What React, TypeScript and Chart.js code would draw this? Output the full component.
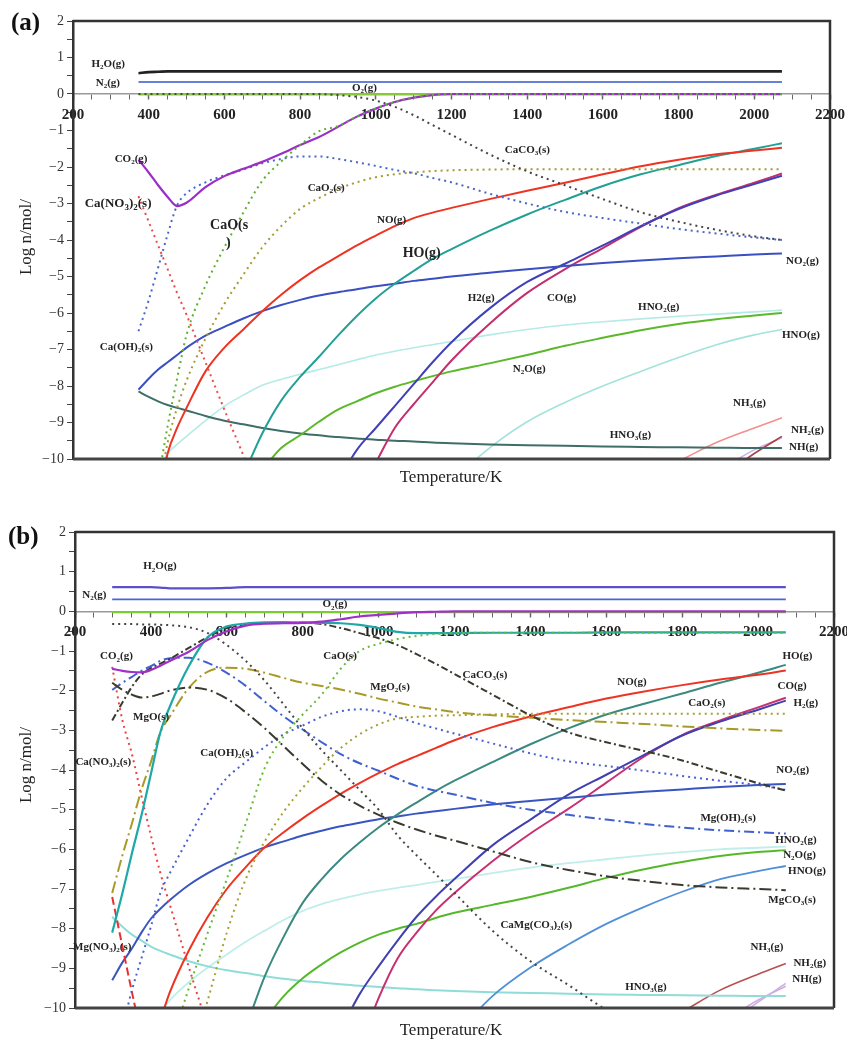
import React, { useEffect, useRef } from "react";
import { Chart, registerables } from "chart.js";

Chart.register(...registerables);

const N = null;
const SERIF = '"Liberation Serif", "Times New Roman", serif';

// ---------------- Panel (a) ----------------
const tempA = [373, 400, 425, 450, 475, 500, 550, 600, 650, 700, 750, 800, 850, 900, 950, 1000, 1050, 1100, 1150, 1200, 1300, 1400, 1500, 1600, 1700, 1800, 1900, 2000, 2073];

const aH2O = [0.57, 0.6, 0.61, 0.62, 0.62, 0.62, 0.62, 0.62, 0.62, 0.62, 0.62, 0.62, 0.62, 0.62, 0.62, 0.62, 0.62, 0.62, 0.62, 0.62, 0.62, 0.62, 0.62, 0.62, 0.62, 0.62, 0.62, 0.62, 0.62];
const aN2 = [0.33, 0.33, 0.33, 0.33, 0.33, 0.33, 0.33, 0.33, 0.33, 0.33, 0.33, 0.33, 0.33, 0.33, 0.33, 0.33, 0.33, 0.33, 0.33, 0.33, 0.33, 0.33, 0.33, 0.33, 0.33, 0.33, 0.33, 0.33, 0.33];
const aO2 = [-0.01, -0.01, -0.01, -0.01, -0.01, -0.01, -0.01, -0.01, -0.01, -0.01, -0.01, -0.01, -0.01, -0.01, -0.01, -0.01, -0.01, -0.01, -0.01, -0.01, -0.01, -0.01, -0.01, -0.01, -0.01, -0.01, -0.01, -0.01, -0.01];
const aCO2 = [-1.8, -2.15, -2.5, -2.82, -3.07, -2.98, -2.55, -2.25, -2.05, -1.86, -1.64, -1.4, -1.18, -0.9, -0.62, -0.4, -0.22, -0.1, -0.03, 0, 0, 0, 0, 0, 0, 0, 0, 0, 0];
const aCaOH2 = [-6.5, -5.65, -4.75, -3.85, -3.05, -2.72, -2.42, -2.23, -2.07, -1.9, -1.78, -1.71, -1.71, -1.78, -1.87, -1.97, -2.08, -2.17, -2.3, -2.42, -2.73, -3.0, -3.23, -3.4, -3.55, -3.7, -3.82, -3.93, -4.0];
const aCaNO3 = [-2.8, -3.5, -4.15, -4.8, -5.45, -6.05, -7.35, -8.65, -9.9, -11.2, N, N, N, N, N, N, N, N, N, N, N, N, N, N, N, N, N, N, N];
const aCaO = [N, N, -10.6, -9.1, -7.8, -6.6, -5.25, -4.2, -3.25, -2.38, -1.85, -1.4, -1.02, -0.88, -0.62, -0.4, -0.22, -0.1, -0.03, 0, 0, 0, 0, 0, 0, 0, 0, 0, 0];
const aCaO2 = [N, N, -11.0, -9.55, -8.6, -7.85, -6.7, -5.75, -4.95, -4.2, -3.62, -3.15, -2.85, -2.6, -2.42, -2.28, -2.2, -2.15, -2.11, -2.09, -2.07, -2.06, -2.06, -2.06, -2.06, -2.06, -2.06, -2.06, -2.06];
const aCaCO3 = [0, 0, 0, 0, 0, 0, 0, 0, 0, 0, 0, 0, 0, -0.03, -0.08, -0.18, -0.35, -0.58, -0.85, -1.12, -1.65, -2.12, -2.5, -2.88, -3.24, -3.5, -3.72, -3.9, -4.0];
const aNO = [N, N, -11.2, -9.85, -9.15, -8.6, -7.6, -6.95, -6.45, -5.95, -5.5, -5.1, -4.75, -4.45, -4.15, -3.88, -3.62, -3.4, -3.25, -3.12, -2.88, -2.65, -2.43, -2.2, -1.98, -1.8, -1.65, -1.55, -1.47];
const aHO = [N, N, N, N, N, N, N, N, -10.45, -9.3, -8.4, -7.75, -7.2, -6.62, -6.08, -5.6, -5.2, -4.85, -4.52, -4.25, -3.75, -3.3, -2.9, -2.52, -2.2, -1.95, -1.7, -1.5, -1.35];
const aNO2 = [-8.1, -7.8, -7.55, -7.35, -7.15, -6.95, -6.62, -6.38, -6.15, -5.95, -5.78, -5.64, -5.52, -5.43, -5.35, -5.27, -5.2, -5.12, -5.06, -5.0, -4.9, -4.8, -4.71, -4.63, -4.56, -4.5, -4.45, -4.4, -4.37];
const aHNO3 = [-8.15, -8.3, -8.42, -8.52, -8.6, -8.67, -8.82, -8.95, -9.05, -9.15, -9.23, -9.3, -9.35, -9.4, -9.44, -9.47, -9.5, -9.52, -9.55, -9.57, -9.6, -9.62, -9.64, -9.66, -9.67, -9.68, -9.69, -9.7, -9.7];
const aHNO2 = [N, N, -10.3, -9.85, -9.6, -9.38, -8.95, -8.55, -8.25, -7.98, -7.82, -7.68, -7.55, -7.42, -7.28, -7.15, -7.05, -6.95, -6.87, -6.78, -6.6, -6.45, -6.33, -6.24, -6.16, -6.09, -6.03, -5.97, -5.92];
const aN2O = [N, N, N, N, N, N, N, N, N, -10.3, -9.7, -9.35, -8.98, -8.65, -8.42, -8.2, -8.02, -7.87, -7.73, -7.6, -7.38, -7.15, -6.9, -6.68, -6.47, -6.3, -6.17, -6.07, -6.0];
const aH2 = [N, N, N, N, N, N, N, N, N, N, N, N, N, -10.6, -9.75, -9.15, -8.55, -7.95, -7.35, -6.8, -5.88, -5.15, -4.65, -4.15, -3.62, -3.15, -2.78, -2.47, -2.24];
const aCO = [N, N, N, N, N, N, N, N, N, N, N, N, N, N, N, -10.1, -9.15, -8.5, -7.9, -7.3, -6.3, -5.45, -4.8, -4.22, -3.64, -3.13, -2.76, -2.43, -2.18];
const aHNO = [N, N, N, N, N, N, N, N, N, N, N, N, N, N, N, N, N, N, N, -10.6, -9.7, -8.98, -8.45, -8.0, -7.6, -7.22, -6.87, -6.6, -6.45];
const aNH3 = [N, N, N, N, N, N, N, N, N, N, N, N, N, N, N, N, N, N, N, N, N, N, N, N, -10.55, -10.06, -9.55, -9.15, -8.87];
const aNH2 = [N, N, N, N, N, N, N, N, N, N, N, N, N, N, N, N, N, N, N, N, N, N, N, N, N, N, -10.6, -9.85, -9.38];
const aNH = [N, N, N, N, N, N, N, N, N, N, N, N, N, N, N, N, N, N, N, N, N, N, N, N, N, N, -10.35, -9.75, -9.42];

// ---------------- Panel (b) ----------------
const tempB = [298, 325, 350, 375, 400, 425, 450, 500, 550, 600, 650, 700, 750, 800, 850, 900, 950, 1000, 1050, 1100, 1150, 1200, 1300, 1400, 1500, 1600, 1700, 1800, 1900, 2000, 2073];

const bH2O = [0.61, 0.61, 0.61, 0.61, 0.61, 0.6, 0.58, 0.58, 0.58, 0.59, 0.61, 0.61, 0.61, 0.61, 0.61, 0.61, 0.61, 0.61, 0.61, 0.61, 0.61, 0.61, 0.61, 0.61, 0.61, 0.61, 0.61, 0.61, 0.61, 0.61, 0.61];
const bN2 = [0.3, 0.3, 0.3, 0.3, 0.3, 0.3, 0.3, 0.3, 0.3, 0.3, 0.3, 0.3, 0.3, 0.3, 0.3, 0.3, 0.3, 0.3, 0.3, 0.3, 0.3, 0.3, 0.3, 0.3, 0.3, 0.3, 0.3, 0.3, 0.3, 0.3, 0.3];
const bO2 = [-0.02, -0.02, -0.02, -0.02, -0.02, -0.02, -0.02, -0.02, -0.02, -0.02, -0.02, -0.02, -0.02, -0.02, -0.02, -0.02, -0.02, -0.02, -0.02, -0.02, -0.02, -0.02, -0.02, -0.02, -0.02, -0.02, -0.02, -0.02, -0.02, -0.02, -0.02];
const bCO2 = [-1.45, -1.5, -1.53, -1.54, -1.48, -1.37, -1.25, -1.02, -0.72, -0.5, -0.36, -0.31, -0.3, -0.29, -0.26, -0.2, -0.13, -0.09, -0.05, -0.02, -0.01, 0, 0, 0, 0, 0, 0, 0, 0, 0, 0];
const bMgO = [-8.1, -7.1, -6.1, -5.15, -4.1, -3.05, -2.4, -1.38, -0.65, -0.38, -0.31, -0.28, -0.27, -0.28, -0.29, -0.3, -0.34, -0.42, -0.52, -0.55, -0.55, -0.55, -0.54, -0.54, -0.54, -0.53, -0.53, -0.53, -0.53, -0.53, -0.53];
const bCaCO3 = [-2.75, -2.3, -1.9, -1.6, -1.43, -1.32, -1.2, -0.92, -0.65, -0.42, -0.33, -0.3, -0.29, -0.29, -0.32, -0.42, -0.55, -0.68, -0.85, -1.08, -1.32, -1.58, -2.1, -2.62, -3.05, -3.3, -3.52, -3.76, -4.05, -4.33, -4.52];
const bCaMgCO3 = [-0.32, -0.32, -0.32, -0.33, -0.33, -0.34, -0.35, -0.4, -0.55, -0.85, -1.25, -1.75, -2.35, -2.95, -3.5, -4.0, -4.5, -5.0, -5.65, -6.15, -6.62, -7.1, -8.05, -8.82, -9.42, -10.05, -10.6, N, N, N, N];
const bMgCO3 = [-1.8, -1.98, -2.1, -2.17, -2.15, -2.08, -2.0, -1.92, -1.98, -2.2, -2.55, -2.95, -3.4, -3.85, -4.27, -4.62, -4.9, -5.13, -5.33, -5.5, -5.65, -5.78, -6.05, -6.32, -6.52, -6.68, -6.8, -6.9, -6.96, -7.0, -7.03];
const bMgO2 = [-7.1, -6.15, -5.35, -4.5, -3.8, -3.05, -2.65, -1.93, -1.52, -1.42, -1.45, -1.55, -1.68, -1.8, -1.88, -1.97, -2.08, -2.2, -2.3, -2.4, -2.47, -2.54, -2.62, -2.68, -2.74, -2.79, -2.84, -2.9, -2.95, -2.99, -3.01];
const bCaO2 = [N, N, N, N, N, N, N, -11.5, -9.8, -8.1, -6.75, -5.8, -5.05, -4.45, -3.92, -3.45, -3.1, -2.85, -2.7, -2.66, -2.63, -2.62, -2.6, -2.58, -2.58, -2.58, -2.58, -2.58, -2.58, -2.58, -2.58];
const bCaO = [N, N, N, N, N, N, -11.0, -9.5, -8.1, -6.75, -5.35, -3.95, -3.15, -2.6, -2.1, -1.45, -1.0, -0.82, -0.7, -0.62, -0.57, -0.55, -0.54, -0.54, -0.54, -0.54, -0.54, -0.54, -0.54, -0.54, -0.54];
const bCaOH2 = [N, -10.5, -9.55, -8.75, -7.95, -7.1, -6.6, -5.7, -4.85, -4.2, -3.8, -3.42, -3.1, -2.88, -2.66, -2.52, -2.47, -2.52, -2.66, -2.82, -2.95, -3.08, -3.33, -3.58, -3.78, -3.9, -4.02, -4.15, -4.27, -4.38, -4.5];
const bMgOH2 = [-1.98, -1.8, -1.65, -1.5, -1.38, -1.25, -1.18, -1.17, -1.3, -1.55, -1.88, -2.27, -2.65, -2.98, -3.3, -3.6, -3.83, -4.02, -4.22, -4.4, -4.52, -4.62, -4.83, -5.0, -5.13, -5.25, -5.36, -5.45, -5.52, -5.57, -5.6];
const bCaNO3 = [-1.4, -2.75, -3.6, -4.65, -5.65, -6.6, -7.4, -8.97, -10.5, N, N, N, N, N, N, N, N, N, N, N, N, N, N, N, N, N, N, N, N, N, N];
const bMgNO3 = [-7.2, -8.45, -9.6, -10.7, N, N, N, N, N, N, N, N, N, N, N, N, N, N, N, N, N, N, N, N, N, N, N, N, N, N, N];
const bNO = [N, N, N, N, N, -10.3, -9.6, -8.55, -7.7, -7.0, -6.45, -5.95, -5.57, -5.22, -4.9, -4.6, -4.33, -4.08, -3.85, -3.65, -3.45, -3.25, -2.92, -2.65, -2.42, -2.2, -2.02, -1.86, -1.72, -1.6, -1.49];
const bHO = [N, N, N, N, N, N, N, N, N, N, -10.5, -9.2, -8.2, -7.35, -6.75, -6.25, -5.83, -5.45, -5.12, -4.82, -4.53, -4.27, -3.8, -3.35, -2.95, -2.6, -2.33, -2.07, -1.8, -1.55, -1.35];
const bNO2 = [-9.3, -8.85, -8.5, -8.1, -7.75, -7.5, -7.28, -6.9, -6.6, -6.35, -6.14, -5.95, -5.8, -5.65, -5.53, -5.42, -5.33, -5.24, -5.17, -5.1, -5.04, -4.98, -4.87, -4.78, -4.7, -4.62, -4.55, -4.49, -4.43, -4.38, -4.35];
const bHNO3 = [-7.7, -7.95, -8.15, -8.3, -8.45, -8.56, -8.65, -8.82, -8.95, -9.05, -9.12, -9.2, -9.26, -9.32, -9.36, -9.4, -9.44, -9.47, -9.5, -9.53, -9.55, -9.57, -9.6, -9.62, -9.64, -9.66, -9.67, -9.68, -9.69, -9.7, -9.7];
const bHNO2 = [N, N, N, N, N, -10.1, -9.8, -9.35, -8.98, -8.65, -8.33, -8.05, -7.78, -7.55, -7.38, -7.25, -7.14, -7.05, -6.97, -6.9, -6.82, -6.75, -6.6, -6.46, -6.35, -6.25, -6.15, -6.07, -6.0, -5.96, -5.93];
const bN2O = [N, N, N, N, N, N, N, N, N, N, N, -10.3, -9.7, -9.25, -8.9, -8.6, -8.35, -8.15, -8.0, -7.88, -7.73, -7.6, -7.4, -7.2, -6.97, -6.72, -6.5, -6.32, -6.17, -6.07, -6.02];
const bH2 = [N, N, N, N, N, N, N, N, N, N, N, N, N, N, N, -10.55, -9.65, -8.95, -8.3, -7.7, -7.2, -6.75, -5.9, -5.25, -4.62, -4.12, -3.62, -3.13, -2.78, -2.48, -2.25];
const bCO = [N, N, N, N, N, N, N, N, N, N, N, N, N, N, N, N, -11.0, -9.75, -8.75, -8.1, -7.55, -7.1, -6.3, -5.6, -4.98, -4.32, -3.66, -3.12, -2.75, -2.42, -2.18];
const bHNO = [N, N, N, N, N, N, N, N, N, N, N, N, N, N, N, N, N, N, N, N, N, -10.7, -9.7, -8.98, -8.4, -7.88, -7.45, -7.07, -6.75, -6.55, -6.42];
const bNH3 = [N, N, N, N, N, N, N, N, N, N, N, N, N, N, N, N, N, N, N, N, N, N, N, N, N, N, N, -10.1, -9.55, -9.15, -8.88];
const bNH2 = [N, N, N, N, N, N, N, N, N, N, N, N, N, N, N, N, N, N, N, N, N, N, N, N, N, N, N, N, -10.55, -9.85, -9.38];
const bNH = [N, N, N, N, N, N, N, N, N, N, N, N, N, N, N, N, N, N, N, N, N, N, N, N, N, N, N, N, -10.4, -9.8, -9.45];

// ---------------- styles ----------------
const DOT = [2, 4];
const DASHDOT = [10, 4, 2, 4];
const DASH = [8, 4];

type Spec = { values: (number | null)[]; color: string; width: number; dash?: number[] };
type Lab = { text: string; t: number; v: number; size?: number };

const seriesA: Spec[] = [
  { values: aCaO, color: "#5cb032", width: 2, dash: DOT },
  { values: aCaCO3, color: "#444444", width: 2, dash: DOT },
  { values: aCO2, color: "#9a2fc8", width: 2.2 },
  { values: aH2O, color: "#222222", width: 2.6 },
  { values: aN2, color: "#3557cc", width: 1.6 },
  { values: aCaOH2, color: "#4a66cc", width: 2, dash: DOT },
  { values: aCaNO3, color: "#ee4a4a", width: 2, dash: DOT },
  { values: aCaO2, color: "#a49a32", width: 2, dash: DOT },
  { values: aNO, color: "#ee3322", width: 2 },
  { values: aHO, color: "#22a096", width: 2 },
  { values: aNO2, color: "#3a4fc0", width: 2 },
  { values: aH2, color: "#4040b8", width: 2 },
  { values: aCO, color: "#c42e6c", width: 2 },
  { values: aN2O, color: "#5ab82a", width: 2 },
  { values: aHNO3, color: "#3f6e68", width: 2 },
  { values: aHNO2, color: "#b4ebe6", width: 1.6 },
  { values: aHNO, color: "#a4e2dc", width: 1.6 },
  { values: aNH3, color: "#f29090", width: 1.6 },
  { values: aNH2, color: "#a84048", width: 1.6 },
  { values: aNH, color: "#c6b6e8", width: 1.6 },
  { values: aO2, color: "#86cc3a", width: 2.4 },
];

const seriesB: Spec[] = [
  { values: bCaO, color: "#66bb33", width: 2, dash: DOT },
  { values: bCO2, color: "#a030c8", width: 2.2 },
  { values: bMgO, color: "#1fa8a8", width: 2.2 },
  { values: bH2O, color: "#5a50c8", width: 2.2 },
  { values: bN2, color: "#4a66d0", width: 1.8 },
  { values: bCaCO3, color: "#3a3a30", width: 2, dash: [7, 3, 2, 3] },
  { values: bCaMgCO3, color: "#444444", width: 2, dash: DOT },
  { values: bMgCO3, color: "#3a3a30", width: 2, dash: [12, 4, 2, 4] },
  { values: bMgO2, color: "#a89a28", width: 2, dash: [12, 4, 2, 4] },
  { values: bCaO2, color: "#a8a030", width: 2, dash: DOT },
  { values: bCaOH2, color: "#4a60d0", width: 2, dash: DOT },
  { values: bMgOH2, color: "#4060d0", width: 2, dash: DASHDOT },
  { values: bCaNO3, color: "#ee4040", width: 2, dash: DOT },
  { values: bMgNO3, color: "#e83030", width: 2, dash: DASH },
  { values: bNO, color: "#ee3322", width: 2 },
  { values: bHO, color: "#3a8a80", width: 2 },
  { values: bNO2, color: "#3a55c0", width: 2 },
  { values: bH2, color: "#4040b0", width: 2 },
  { values: bCO, color: "#c83070", width: 2 },
  { values: bN2O, color: "#55b82a", width: 2 },
  { values: bHNO, color: "#5090d8", width: 1.8 },
  { values: bHNO3, color: "#90dcd8", width: 2 },
  { values: bHNO2, color: "#c0eeea", width: 1.8 },
  { values: bNH3, color: "#b85050", width: 1.6 },
  { values: bNH2, color: "#c8b0e8", width: 1.6 },
  { values: bNH, color: "#d8a8e0", width: 1.6 },
  { values: bO2, color: "#7acc30", width: 2.2 },
];

const labelsA: Lab[] = [
  { text: "H₂O(g)", t: 249, v: 0.82 },
  { text: "N₂(g)", t: 260, v: 0.3 },
  { text: "O₂(g)", t: 937, v: 0.16 },
  { text: "CO₂(g)", t: 310, v: -1.78 },
  { text: "Ca(NO₃)₂(s)", t: 231, v: -3.01, size: 13 },
  { text: "CaO(s", t: 562, v: -3.59, size: 14 },
  { text: ")", t: 604, v: -4.08, size: 14 },
  { text: "CaO₂(s)", t: 820, v: -2.58 },
  { text: "NO(g)", t: 1003, v: -3.45 },
  { text: "CaCO₃(s)", t: 1341, v: -1.53 },
  { text: "HO(g)", t: 1071, v: -4.36, size: 14 },
  { text: "NO₂(g)", t: 2084, v: -4.58 },
  { text: "H2(g)", t: 1243, v: -5.59 },
  { text: "CO(g)", t: 1452, v: -5.59 },
  { text: "HNO₂(g)", t: 1693, v: -5.84 },
  { text: "HNO(g)", t: 2073, v: -6.6 },
  { text: "N₂O(g)", t: 1362, v: -7.53 },
  { text: "NH₃(g)", t: 1944, v: -8.47 },
  { text: "NH₂(g)", t: 2097, v: -9.21 },
  { text: "NH(g)", t: 2092, v: -9.67 },
  { text: "HNO₃(g)", t: 1618, v: -9.34 },
  { text: "Ca(OH)₂(s)", t: 271, v: -6.93 },
];

const labelsB: Lab[] = [
  { text: "H₂O(g)", t: 380, v: 1.13 },
  { text: "N₂(g)", t: 219, v: 0.42 },
  { text: "O₂(g)", t: 852, v: 0.17 },
  { text: "CO₂(g)", t: 266, v: -1.14 },
  { text: "MgO(s)", t: 353, v: -2.68 },
  { text: "CaO(s)", t: 854, v: -1.14 },
  { text: "MgO₂(s)", t: 978, v: -1.9 },
  { text: "CaCO₃(s)", t: 1221, v: -1.6 },
  { text: "Ca(OH)₂(s)", t: 530, v: -3.57 },
  { text: "Ca(NO₃)₂(s)", t: 201, v: -3.8 },
  { text: "Mg(NO₃)₂(s)", t: 195, v: -8.47 },
  { text: "NO(g)", t: 1629, v: -1.78 },
  { text: "CaO₂(s)", t: 1816, v: -2.31 },
  { text: "HO(g)", t: 2064, v: -1.14 },
  { text: "CO(g)", t: 2051, v: -1.88 },
  { text: "H₂(g)", t: 2093, v: -2.31 },
  { text: "NO₂(g)", t: 2048, v: -4.0 },
  { text: "Mg(OH)₂(s)", t: 1848, v: -5.21 },
  { text: "HNO₂(g)", t: 2045, v: -5.77 },
  { text: "N₂O(g)", t: 2066, v: -6.14 },
  { text: "HNO(g)", t: 2079, v: -6.55 },
  { text: "MgCO₃(s)", t: 2027, v: -7.28 },
  { text: "CaMg(CO₃)₂(s)", t: 1321, v: -7.91 },
  { text: "NH₃(g)", t: 1980, v: -8.47 },
  { text: "NH₂(g)", t: 2093, v: -8.87 },
  { text: "NH(g)", t: 2090, v: -9.28 },
  { text: "HNO₃(g)", t: 1650, v: -9.48 },
];

const SUB = "₀₁₂₃₄₅₆₇₈₉";

function drawRich(ctx: CanvasRenderingContext2D, text: string, x: number, y: number, size: number, bold: boolean) {
  let cx = x;
  ctx.textBaseline = "middle";
  ctx.textAlign = "left";
  for (const ch of text) {
    const si = SUB.indexOf(ch);
    if (si >= 0) {
      ctx.font = `${bold ? "bold " : ""}${Math.round(size * 0.68)}px ${SERIF}`;
      ctx.fillText(String(si), cx, y + size * 0.3);
      cx += ctx.measureText(String(si)).width;
    } else {
      ctx.font = `${bold ? "bold " : ""}${size}px ${SERIF}`;
      ctx.fillText(ch, cx, y);
      cx += ctx.measureText(ch).width;
    }
  }
}

function fmtY(v: number) {
  if (Math.abs(v - Math.round(v)) > 1e-6) return "";
  const r = Math.round(v);
  return r < 0 ? "\u2212" + Math.abs(r) : String(r);
}

type PanelCfg = {
  temps: number[];
  series: Spec[];
  labels: Lab[];
  height: number;
  top: number;
  padding: { left: number; top: number; right: number; bottom: number };
  yWidth: number;
  letter: string;
  letterPos: [number, number];
  xTitleY: number;
  yTitleY: number;
};

const panelA: PanelCfg = {
  temps: tempA,
  series: seriesA,
  labels: labelsA,
  height: 500,
  top: 0,
  padding: { left: 0, top: 21, right: 17, bottom: 41 },
  yWidth: 73,
  letter: "(a)",
  letterPos: [11, 24],
  xTitleY: 478,
  yTitleY: 237,
};

const panelB: PanelCfg = {
  temps: tempB,
  series: seriesB,
  labels: labelsB,
  height: 541,
  top: 500,
  padding: { left: 0, top: 32, right: 13, bottom: 33 },
  yWidth: 75,
  letter: "(b)",
  letterPos: [8, 38],
  xTitleY: 531,
  yTitleY: 265,
};

function Panel({ cfg }: { cfg: PanelCfg }) {
  const ref = useRef<HTMLCanvasElement>(null);
  useEffect(() => {
    const frame = {
      id: "frame",
      afterDatasetsDraw(chart: any) {
        const { ctx, chartArea: a } = chart;
        ctx.save();
        ctx.strokeStyle = "#333";
        ctx.lineWidth = 2.5;
        ctx.beginPath();
        ctx.moveTo(a.left, a.top);
        ctx.lineTo(a.right, a.top);
        ctx.lineTo(a.right, a.bottom);
        ctx.stroke();
        ctx.lineWidth = 3;
        ctx.strokeStyle = "#444";
        ctx.beginPath();
        ctx.moveTo(a.left, a.bottom);
        ctx.lineTo(a.right, a.bottom);
        ctx.stroke();
        ctx.restore();
      },
    };
    const texts = {
      id: "texts",
      afterDraw(chart: any) {
        const { ctx } = chart;
        const xs = chart.scales.x;
        const ys = chart.scales.y;
        ctx.save();
        ctx.fillStyle = "#222";
        for (const l of cfg.labels) {
          drawRich(ctx, l.text, xs.getPixelForValue(l.t), ys.getPixelForValue(l.v), l.size || 11, true);
        }
        // panel letter
        ctx.fillStyle = "#111";
        drawRich(ctx, cfg.letter, cfg.letterPos[0], cfg.letterPos[1], 25, true);
        // axis titles
        ctx.fillStyle = "#222";
        ctx.font = `17px ${SERIF}`;
        ctx.textAlign = "center";
        ctx.textBaseline = "middle";
        ctx.fillText("Temperature/K", 451, cfg.xTitleY);
        ctx.translate(27, cfg.yTitleY);
        ctx.rotate(-Math.PI / 2);
        ctx.fillText("Log n/mol/", 0, 0);
        ctx.restore();
      },
    };
    const chart = new Chart(ref.current as HTMLCanvasElement, {
      type: "line",
      data: {
        datasets: cfg.series.map((s) => ({
          data: cfg.temps.map((t, i) => ({ x: t, y: s.values[i] })),
          borderColor: s.color,
          backgroundColor: s.color,
          borderWidth: s.width,
          borderDash: s.dash || [],
          pointRadius: 0,
          fill: false,
          cubicInterpolationMode: "monotone",
          spanGaps: false,
          clip: 0,
        })) as any,
      },
      options: {
        responsive: false,
        animation: false,
        devicePixelRatio: 1,
        events: [],
        layout: { padding: cfg.padding },
        plugins: { legend: { display: false }, tooltip: { enabled: false }, title: { display: false } },
        scales: {
          x: {
            type: "linear",
            position: { y: 0 } as any,
            min: 200,
            max: 2200,
            ticks: {
              stepSize: 50,
              autoSkip: false,
              maxRotation: 0,
              padding: 7,
              color: "#222",
              font: { family: SERIF, size: 15, weight: "bold" },
              callback: (v: any) => (Number(v) % 200 === 0 ? String(v) : ""),
            },
            grid: {
              drawOnChartArea: false,
              drawTicks: true,
              tickLength: 5,
              color: "#666",
              tickWidth: (c: any) => (c.tick && c.tick.value % 200 === 0 ? 1.5 : 1),
            },
            border: { display: true, color: "#999", width: 1.5 },
            afterFit: (s: any) => {
              s.paddingLeft = 0;
              s.paddingRight = 0;
            },
          } as any,
          y: {
            type: "linear",
            position: "left",
            min: -10,
            max: 2,
            ticks: {
              stepSize: 0.5,
              autoSkip: false,
              padding: 3,
              color: "#333",
              font: { family: SERIF, size: 14 },
              callback: (v: any) => fmtY(Number(v)),
            },
            grid: { drawOnChartArea: false, drawTicks: true, tickLength: 6, color: "#444" },
            border: { display: true, color: "#333", width: 2.5 },
            afterFit: (s: any) => {
              s.width = cfg.yWidth;
              s.paddingTop = 0;
              s.paddingBottom = 0;
            },
          } as any,
        },
      },
      plugins: [frame, texts],
    });
    return () => chart.destroy();
  }, [cfg]);
  return (
    <canvas
      ref={ref}
      width={847}
      height={cfg.height}
      style={{ position: "absolute", left: 0, top: cfg.top, width: 847, height: cfg.height }}
    />
  );
}

export default function App() {
  return (
    <div style={{ position: "absolute", left: 0, top: 0, width: 847, height: 1041, background: "#fff" }}>
      <Panel cfg={panelA} />
      <Panel cfg={panelB} />
    </div>
  );
}
